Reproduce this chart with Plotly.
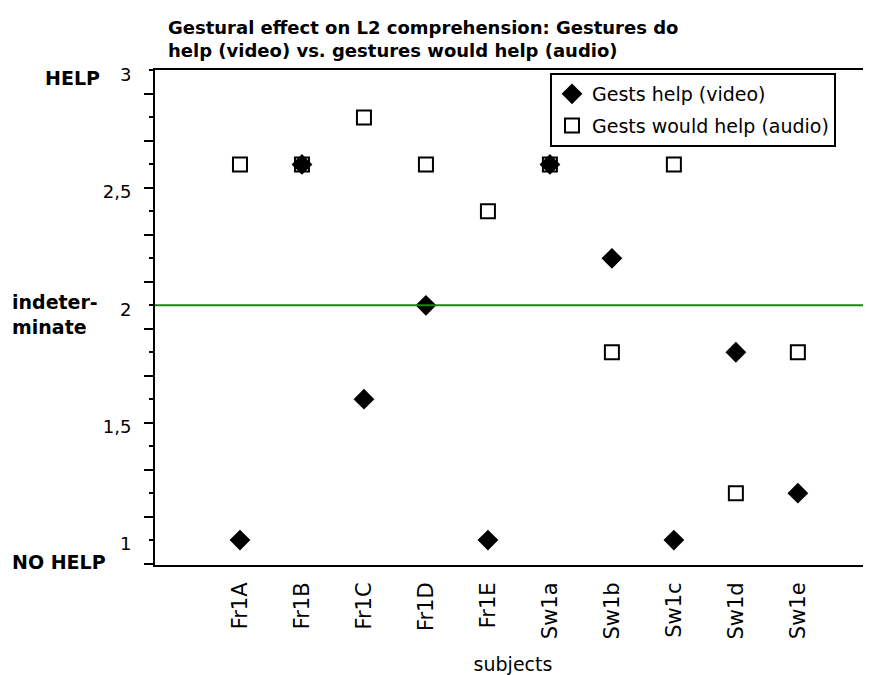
import plotly.graph_objects as go

subjects = ["Fr1A", "Fr1B", "Fr1C", "Fr1D", "Fr1E", "Sw1a", "Sw1b", "Sw1c", "Sw1d", "Sw1e"]
video = [1.0, 2.6, 1.6, 2.0, 1.0, 2.6, 2.2, 1.0, 1.8, 1.2]
audio = [2.6, 2.6, 2.8, 2.6, 2.4, 2.6, 1.8, 2.6, 1.2, 1.8]
y_tickvals = [1, 1.5, 2, 2.5, 3]
y_ticktext = ["1", "1,5", "2", "2,5", "3"]
long_ticks = [0.9, 1.1, 1.3, 1.5, 1.7, 1.9, 2.1, 2.3, 2.5, 2.7, 2.9]
short_ticks = [1.0, 1.2, 1.4, 1.6, 1.8, 2.0, 2.2, 2.4, 2.6, 2.8, 3.0]
indeterminate = 2

FONT = "DejaVu Sans, Verdana, sans-serif"
xs = list(range(len(subjects)))
yrange = [0.894, 3.002]

# page is rendered with an 8px body margin -> figure is 8px smaller
W, H = 863, 667
PL, PT, PW, PH = 155, 70, 716, 495   # plot area in page pixels


def px_x(px):
    return (px - PL) / PW


def px_y(py):
    return 1 - (py - PT) / PH


fig = go.Figure()
fig.add_trace(go.Scatter(
    x=xs, y=video, mode="markers", name="Gests help (video)", legendgroup="v",
    marker=dict(symbol="diamond", size=16, color="black", line=dict(width=0)),
    cliponaxis=False))
fig.add_trace(go.Scatter(
    x=xs, y=audio, mode="markers", name="Gests would help (audio)", legendgroup="a",
    marker=dict(symbol="square-open", size=14, color="black", line=dict(width=2)),
    cliponaxis=False))

# helper traces for extra tick axes
fig.add_trace(go.Scatter(x=[None], y=[None], yaxis="y2", showlegend=False, hoverinfo="skip"))
fig.add_trace(go.Scatter(x=[None], y=[None], yaxis="y3", showlegend=False, hoverinfo="skip"))

fig.add_shape(type="line", xref="paper", x0=0, x1=1, yref="y", y0=indeterminate, y1=indeterminate,
              line=dict(color="#138a13", width=2))

fig.update_layout(
    width=W, height=H,
    margin=dict(l=PL - 8, r=0, t=PT - 8, b=H - (PT - 8) - PH),
    paper_bgcolor="white", plot_bgcolor="white",
    font=dict(family=FONT, color="black", size=18),
    title=dict(
        text="<b>Gestural effect on L2 comprehension: Gestures do<br>help (video) vs. gestures would help (audio)</b>",
        x=px_x(168), xref="paper", xanchor="left",
        y=1 - 26 / H, yref="container", yanchor="top",
        font=dict(size=18, family=FONT, color="black")),
    xaxis=dict(
        range=[-1.371, 10.18], tickmode="array", tickvals=xs, ticktext=subjects,
        tickangle=-90, ticks="outside", ticklen=7, tickcolor="rgba(0,0,0,0)",
        showgrid=False, zeroline=False,
        showline=True, linecolor="black", linewidth=2, mirror=True,
        tickfont=dict(size=21, family=FONT),
        title=dict(text="subjects", font=dict(size=19, family=FONT), standoff=20)),
    yaxis=dict(
        range=yrange, tickmode="array", tickvals=y_tickvals, ticktext=y_ticktext,
        ticks="outside", ticklen=18, tickcolor="rgba(0,0,0,0)", ticklabelshift=4,
        showgrid=False, zeroline=False, showline=True, linecolor="black", linewidth=2,
        tickfont=dict(size=18, family=FONT)),
    yaxis2=dict(
        range=yrange, overlaying="y", anchor="x", side="left",
        tickmode="array", tickvals=long_ticks, showticklabels=False,
        ticks="outside", ticklen=10, tickwidth=2, tickcolor="black",
        showgrid=False, zeroline=False, showline=False),
    yaxis3=dict(
        range=yrange, overlaying="y", anchor="x", side="left",
        tickmode="array", tickvals=short_ticks, showticklabels=False,
        ticks="outside", ticklen=5, tickwidth=2, tickcolor="black",
        showgrid=False, zeroline=False, showline=False),
    legend=dict(
        x=px_x(550), xanchor="left", y=px_y(73), yanchor="top",
        bgcolor="white", bordercolor="black", borderwidth=2,
        font=dict(size=19, family=FONT), itemsizing="trace",
        tracegroupgap=4, traceorder="grouped"),
    showlegend=True,
)

bold_labels = [
    ("<b>HELP</b>", 102, 78, "right"),
    ("<b>indeter-<br>minate</b>", 10, 314, "left"),
    ("<b>NO HELP</b>", 10, 562, "left"),
]
for text, px, py, anchor in bold_labels:
    fig.add_annotation(text=text, xref="paper", yref="paper",
                       x=px_x(px), y=px_y(py),
                       xanchor=anchor, yanchor="middle", align="left",
                       showarrow=False, font=dict(size=19, family=FONT, color="black"))

fig.write_html("out.html")
